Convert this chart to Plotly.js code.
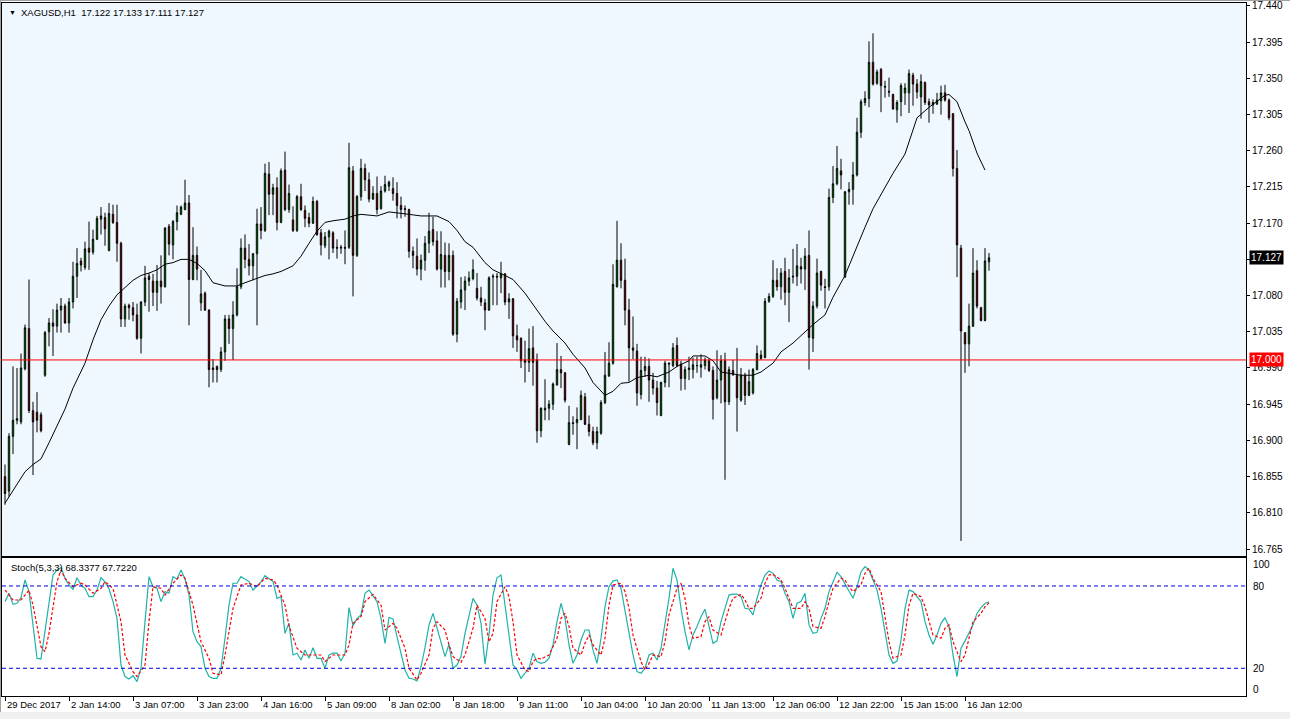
<!DOCTYPE html>
<html><head><meta charset="utf-8">
<script src="https://cdn.plot.ly/plotly-3.0.1.min.js"></script>
<style>html,body{margin:0;padding:0;background:#fff;}#chart{width:1290px;height:719px;}</style>
</head><body><div id="chart"></div>
<script>
// ---- OHLC (XAGUSD H1), bar index 0..246 ----
const openP = [16.855,16.837,16.905,16.925,16.923,16.989,17.039,16.937,16.935,16.932,
16.981,17.035,17.046,17.042,17.062,17.067,17.046,17.072,17.104,17.123,
17.115,17.139,17.134,17.150,17.175,17.177,17.136,17.181,17.171,17.145,
17.051,17.068,17.065,17.056,17.027,17.072,17.104,17.098,17.084,17.098,
17.091,17.166,17.143,17.172,17.181,17.187,17.195,17.100,17.130,17.071,
17.083,17.062,16.990,16.992,16.988,17.010,17.051,17.039,17.056,17.091,
17.139,17.125,17.117,17.132,17.169,17.161,17.231,17.206,17.214,17.171,
17.236,17.187,17.174,17.161,17.203,17.186,17.177,17.170,17.197,17.158,
17.142,17.153,17.158,17.140,17.139,17.140,17.140,17.235,17.130,17.203,
17.238,17.224,17.200,17.207,17.188,17.210,17.216,17.213,17.207,17.192,
17.187,17.187,17.135,17.129,17.113,17.124,17.145,17.162,17.148,17.113,
17.130,17.110,17.130,17.032,17.072,17.087,17.098,17.101,17.089,17.077,
17.071,17.062,17.103,17.104,17.102,17.107,17.072,17.076,17.030,17.027,
17.000,16.997,17.015,17.000,16.912,16.940,16.940,16.945,16.969,16.988,
16.984,16.895,16.922,16.922,16.926,16.954,16.920,16.911,16.897,16.909,
16.947,16.980,16.996,17.091,17.124,17.099,17.062,17.015,17.011,16.957,
16.987,16.992,16.975,16.965,16.931,16.972,16.996,16.993,17.018,16.995,
16.977,16.988,16.988,16.993,16.991,16.993,16.999,16.987,16.953,16.975,
16.999,16.948,16.987,16.981,16.950,16.981,16.956,16.959,16.988,17.006,
17.003,17.073,17.079,17.099,17.091,17.110,17.084,17.103,17.104,17.116,
17.113,17.130,17.027,17.067,17.110,17.091,17.091,17.202,17.219,17.235,
17.103,17.209,17.212,17.230,17.283,17.320,17.325,17.370,17.344,17.361,
17.339,17.334,17.330,17.311,17.321,17.332,17.332,17.354,17.343,17.327,
17.345,17.321,17.317,17.318,17.322,17.332,17.323,17.306,17.238,17.139,
17.034,17.020,17.042,17.111,17.065,17.049,17.122];
const highP = [16.870,16.909,16.992,16.990,17.008,17.044,17.100,16.948,16.960,16.935,
17.036,17.052,17.063,17.070,17.077,17.070,17.077,17.122,17.139,17.127,
17.147,17.172,17.162,17.179,17.190,17.183,17.195,17.193,17.193,17.147,
17.070,17.070,17.072,17.070,17.073,17.117,17.108,17.107,17.118,17.130,
17.165,17.169,17.174,17.192,17.192,17.224,17.205,17.165,17.141,17.112,
17.085,17.063,17.001,16.993,17.016,17.056,17.056,17.073,17.114,17.151,
17.156,17.144,17.133,17.188,17.190,17.244,17.246,17.219,17.227,17.238,
17.259,17.218,17.191,17.205,17.219,17.192,17.183,17.203,17.199,17.163,
17.159,17.162,17.160,17.150,17.143,17.161,17.270,17.241,17.205,17.250,
17.244,17.233,17.216,17.228,17.216,17.229,17.223,17.227,17.221,17.203,
17.192,17.188,17.141,17.151,17.131,17.154,17.183,17.178,17.160,17.160,
17.146,17.145,17.136,17.077,17.103,17.104,17.110,17.125,17.108,17.091,
17.076,17.104,17.107,17.108,17.122,17.108,17.083,17.077,17.044,17.028,
17.024,17.039,17.042,17.008,16.941,16.976,16.950,16.972,17.021,17.005,
16.985,16.943,16.930,16.941,16.962,16.959,16.931,16.917,16.917,16.950,
17.010,17.022,17.119,17.173,17.145,17.126,17.076,17.054,17.020,17.004,
17.004,17.002,16.984,16.974,16.973,16.999,16.997,17.021,17.028,16.999,
16.992,17.004,17.003,17.004,17.007,17.003,17.001,16.992,17.012,17.006,
17.009,16.992,17.000,17.015,16.990,16.984,16.988,16.990,17.018,17.012,
17.077,17.083,17.124,17.114,17.114,17.127,17.113,17.138,17.144,17.127,
17.139,17.161,17.073,17.126,17.111,17.101,17.213,17.241,17.266,17.250,
17.210,17.221,17.246,17.301,17.324,17.334,17.396,17.406,17.361,17.363,
17.347,17.351,17.331,17.323,17.344,17.344,17.361,17.357,17.349,17.355,
17.346,17.325,17.324,17.332,17.341,17.342,17.325,17.307,17.261,17.143,
17.034,17.070,17.139,17.124,17.066,17.139,17.133];
const lowP = [16.820,16.830,16.883,16.920,16.920,16.987,16.934,16.857,16.910,16.910,
16.979,17.017,17.005,17.034,17.034,17.045,17.034,17.064,17.077,17.110,
17.112,17.112,17.131,17.149,17.156,17.142,17.135,17.169,17.122,17.041,
17.041,17.050,17.048,17.025,17.008,17.067,17.060,17.067,17.061,17.070,
17.090,17.130,17.125,17.161,17.180,17.186,17.043,17.099,17.099,17.061,
17.061,16.966,16.972,16.972,16.985,16.999,17.020,17.000,17.054,17.088,
17.114,17.105,17.099,17.043,17.150,17.159,17.180,17.180,17.161,17.170,
17.185,17.183,17.159,17.159,17.185,17.165,17.165,17.169,17.154,17.130,
17.139,17.125,17.133,17.126,17.132,17.119,17.138,17.079,17.128,17.198,
17.210,17.196,17.199,17.181,17.187,17.208,17.210,17.198,17.176,17.176,
17.178,17.127,17.114,17.105,17.099,17.111,17.133,17.142,17.111,17.090,
17.090,17.099,17.030,17.022,17.064,17.062,17.092,17.099,17.074,17.067,
17.037,17.061,17.068,17.068,17.083,17.068,17.051,17.015,17.010,16.990,
16.972,16.985,16.968,16.897,16.904,16.925,16.925,16.938,16.968,16.965,
16.947,16.894,16.907,16.889,16.925,16.919,16.905,16.894,16.889,16.907,
16.945,16.979,16.994,17.090,17.089,17.043,16.973,17.001,16.943,16.951,
16.979,16.948,16.957,16.931,16.930,16.966,16.966,16.991,16.991,16.962,
16.963,16.975,16.977,16.984,16.978,16.988,16.985,16.926,16.951,16.946,
16.851,16.944,16.980,16.911,16.948,16.944,16.955,16.957,16.987,17.000,
17.002,17.071,17.077,17.086,17.075,17.068,17.047,17.095,17.092,17.095,
17.087,16.988,17.010,17.064,17.086,17.064,17.086,17.195,17.217,17.212,
17.102,17.193,17.193,17.228,17.276,17.316,17.314,17.341,17.342,17.308,
17.326,17.327,17.311,17.295,17.303,17.317,17.307,17.316,17.325,17.300,
17.317,17.295,17.306,17.317,17.305,17.321,17.298,17.228,17.103,16.775,
16.984,16.992,17.041,17.064,17.048,17.048,17.111];
const closeP = [16.834,16.905,16.925,16.927,16.990,17.040,16.937,16.923,16.925,16.912,
17.034,17.046,17.042,17.062,17.067,17.046,17.072,17.104,17.120,17.118,
17.138,17.134,17.150,17.176,17.179,17.163,17.182,17.171,17.145,17.051,
17.067,17.065,17.056,17.027,17.072,17.102,17.100,17.084,17.098,17.091,
17.164,17.144,17.172,17.183,17.190,17.195,17.100,17.130,17.113,17.082,
17.062,16.988,16.988,16.988,17.010,17.051,17.039,17.056,17.091,17.139,
17.125,17.117,17.132,17.169,17.161,17.232,17.206,17.214,17.171,17.235,
17.187,17.207,17.161,17.203,17.187,17.176,17.170,17.197,17.156,17.143,
17.153,17.160,17.139,17.139,17.140,17.139,17.239,17.130,17.203,17.238,
17.224,17.200,17.207,17.187,17.210,17.218,17.221,17.207,17.192,17.187,
17.188,17.135,17.130,17.113,17.124,17.145,17.160,17.147,17.113,17.131,
17.110,17.130,17.032,17.073,17.087,17.098,17.102,17.112,17.077,17.072,
17.062,17.102,17.104,17.103,17.107,17.072,17.076,17.030,17.025,16.999,
16.997,17.014,16.997,16.912,16.940,16.938,16.945,16.970,16.988,16.984,
16.950,16.922,16.921,16.926,16.956,16.920,16.911,16.897,16.911,16.947,
16.981,16.996,17.094,17.124,17.099,17.062,17.015,17.012,16.959,16.987,
16.992,16.975,16.965,16.947,16.972,16.996,16.995,17.015,16.993,16.977,
16.988,16.990,16.994,16.993,16.994,17.000,16.987,16.951,16.975,16.999,
16.948,16.988,16.982,16.953,16.981,16.956,16.973,16.988,17.008,17.002,
17.073,17.079,17.099,17.091,17.108,17.084,17.102,17.104,17.117,17.113,
17.129,17.028,17.067,17.108,17.093,17.090,17.202,17.219,17.238,17.230,
17.209,17.212,17.230,17.283,17.321,17.325,17.370,17.343,17.358,17.341,
17.340,17.333,17.312,17.320,17.341,17.338,17.356,17.343,17.333,17.346,
17.320,17.317,17.320,17.323,17.332,17.323,17.301,17.238,17.143,17.036,
17.020,17.042,17.108,17.067,17.049,17.123,17.127];
const bars = closeP.map((_, i) => i);

// ---- Moving average line, read at sampled bars ----
const maBars = [0,2,5,7,9,11,13,15,17,20,22,24,26,28,30,32,34,36,38,40,42,44,46,48,50,52,55,58,60,63,65,67,69,72,74,76,78,80,82,85,87,89,93,96,98,101,104,108,111,113,115,117,120,122,125,127,130,132,135,137,140,142,145,147,150,152,154,156,158,161,163,166,168,171,172,175,177,179,182,184,187,189,192,194,197,199,200,202,205,207,210,212,215,217,220,222,225,226,228,231,233,235,236,238,240,241,243,245];
const maVals = [16.822,16.837,16.861,16.870,16.877,16.897,16.917,16.939,16.965,16.996,17.025,17.050,17.067,17.081,17.090,17.099,17.105,17.108,17.112,17.119,17.121,17.125,17.125,17.120,17.111,17.096,17.092,17.092,17.096,17.101,17.105,17.107,17.110,17.117,17.129,17.145,17.160,17.171,17.173,17.175,17.179,17.181,17.179,17.184,17.183,17.181,17.179,17.179,17.172,17.161,17.147,17.140,17.121,17.112,17.105,17.100,17.083,17.069,17.048,17.036,17.021,17.007,16.990,16.972,16.956,16.961,16.971,16.972,16.978,16.981,16.979,16.985,16.992,16.999,17.005,17.005,16.999,16.985,16.983,16.981,16.981,16.985,16.996,17.010,17.021,17.030,17.034,17.044,17.056,17.078,17.105,17.130,17.165,17.188,17.214,17.232,17.256,17.272,17.301,17.314,17.321,17.329,17.330,17.321,17.296,17.285,17.257,17.236];

// ---- Stochastic (5,3,3) ----
const stochK = [68.6,74.7,66.6,67.4,71.5,84.4,75.9,51.6,27.3,26.8,
46.7,66,88,91.7,93.4,85.6,80.7,77.6,86,80.7,
78.3,72.2,72.2,77,86,83,78,68.6,56.4,22.4,
14,12.2,14.6,10.3,20,54,86.8,79.5,78.3,68.6,
75.9,74.7,86.8,85.1,91.7,85.1,73.4,46.7,39.4,35.8,
20,14,12.7,12.7,20,41.9,66.2,82,82,86.8,
85,83.2,77,80.2,83.2,87.5,85,83.2,71,72.2,
45.5,52.8,29.7,31,26,33.4,27.3,35,27.3,27.3,
20,29.7,31,31,25.3,31,64.2,51.1,56.4,58.9,
74.7,77,73,68.6,56.4,38.2,57,56,43,29.7,
18.8,12.7,12.2,10.8,21.2,35,51.6,60,49.2,39,
28.5,37.5,20,22.4,28.5,45.5,57.6,71,66.2,52.8,
23,44.3,73.4,86,88,66.2,44.3,22.4,18.8,12.7,
16.4,20,31,24.9,23.6,24.4,27.3,37,54,67.4,
56.4,37,23.6,29.7,40.6,47.9,47.9,33.4,23.6,41.9,
64.9,79.5,83.6,84.4,78.3,61.3,44.3,29.7,17.6,16.4,
20,29.7,31,26,34.6,52.8,71,92.9,84.4,63.7,
46.7,33.4,44.3,50.4,57.6,63.2,51.6,38.2,40,54,
63.7,73.4,74,74,72.2,63.7,63.2,58.9,71,80.7,
88,91,89.2,84.4,83.2,74.7,68.6,56.4,67.4,68.6,
74.7,51.6,45.5,46.2,56.4,63.7,75.9,83.2,90,86.8,
81.2,75.9,71,79.5,90.4,94.1,91.7,84.4,77,63.7,
45.5,29.7,23.6,25.3,40.6,63.7,77,75.9,72.2,68.6,
54,44.3,37.5,44.3,52.8,56.9,50.4,29.7,14,34.6,
40,45.5,51.6,60,64.2,67.4,68.3];
const stochDBars = [0,2,4,6,7,9,10,11,13,14,15,17,19,20,22,24,25,27,29,30,32,33,35,36,37,39,40,42,44,45,47,48,49,51,52,54,55,57,59,61,63,65,67,68,70,71,72,73,75,77,79,80,82,85,86,87,89,90,92,94,95,97,98,100,101,103,104,106,107,108,110,111,112,114,115,117,118,120,121,122,123,
125,126,127,128,130,131,132,133,134,135,136,138,139,140,141,142,144,145,146,147,149,150,151,152,154,155,156,157,159,160,161,162,164,165,166,168,169,170,171,172,174,175,176,177,179,180,181,182,184,185,186,187,189,190,191,192,194,195,196,197,199,200,201,202,204,205,206,207,209,210,211,212,214,215,216,217,219,220,221,222,224,225,226,227,229,230,231,232,234,235,236,237,239,240,241,242,244,245,246];
const stochDVals = [77,69.8,69.8,77,66,35.8,32.1,45.5,83.2,91.7,85.6,79.5,82,80.7,74.7,78.3,83.2,78.3,54,29.7,17.6,14,22.4,54,79.5,78.3,73.4,82,88,85.6,66,51.6,39.4,27.3,16.4,15.1,29.7,63.7,80.7,82,79.5,85.6,84.4,80.7,66,50.9,43,34.6,29.7,29.7,29.7,24.9,29.7,29.7,37,52.8,57.6,68.6,73.9,66,47.9,52.8,49.2,34.6,20,11.5,16.4,29.7,49.2,54,47.9,37,28.5,24.4,29.7,49.2,66,56.4,39.4,45.5,68.6,
79.5,72.2,54,29.7,18.8,17.6,24.9,27.3,26.8,28.5,29.7,41.9,56.4,60.1,50.4,34.6,29.7,38.2,44.3,37,29.7,41.9,66,80.7,82,75.9,63.7,44.3,24.9,18.8,23.6,29.7,28.5,39.4,58.9,78.3,82,71,51.6,41.9,43,54,57.6,47.9,44.3,54,63.7,71,73.9,69.8,63.7,63.7,71,82,88,88.5,84.4,78.3,71,63.7,63.7,68.6,63.7,50.4,49.2,57.6,68.6,78.3,85.6,84.4,79.5,75.9,80.7,89.2,92.9,85.6,75.9,58.9,39.4,27.3,29.7,44.3,66,74.7,72.2,64.9,54,44.3,41.9,49.2,51.6,39.4,24.9,29.7,41.9,54,60,64.9,67.7];

// ---- Axis labels ----
const priceTicks = [17.440,17.395,17.350,17.305,17.260,17.215,17.170,17.125,17.080,17.035,16.990,16.945,16.900,16.855,16.810,16.765];
const dateTickBars = [0,16,32,48,64,80,96,112,128,144,160,176,192,208,224,240];
const dateTickLabels = ["29 Dec 2017","2 Jan 14:00","3 Jan 07:00","3 Jan 23:00","4 Jan 16:00","5 Jan 09:00","8 Jan 02:00","8 Jan 18:00","9 Jan 11:00","10 Jan 04:00","10 Jan 20:00","11 Jan 13:00","12 Jan 06:00","12 Jan 22:00","15 Jan 15:00","16 Jan 12:00"];
const stochLevels = [80, 20];
const stochScaleLabels = [100, 80, 20, 0];
const symbolTitle = "XAGUSD,H1  17.122 17.133 17.111 17.127";
const stochTitle = "Stoch(5,3,3) 68.3377 67.7220";
const lastPrice = 17.127;
const hLinePrice = 17.000;

// ---- layout helpers (pixel -> paper) ----
const W = 1290, H = 719, ML = 2, MR = 44, MT = 3, MB = 23;
const PW = W - ML - MR, PH = H - MT - MB;
const pxX = p => (p - ML) / PW;
const pxY = p => (H - MB - p) / PH;
const FONT = '"Liberation Sans", Arial, sans-serif';

const traces = [
  { type: 'candlestick', x: bars, open: openP, high: highP, low: lowP, close: closeP,
    xaxis: 'x', yaxis: 'y', whiskerwidth: 0, hoverinfo: 'skip',
    increasing: { line: { color: '#000000', width: 1 }, fillcolor: '#00FF00' },
    decreasing: { line: { color: '#000000', width: 1 }, fillcolor: '#FF0000' } },
  { type: 'scatter', mode: 'lines', x: maBars, y: maVals, xaxis: 'x', yaxis: 'y',
    line: { color: '#000000', width: 1 }, hoverinfo: 'skip' },
  { type: 'scatter', mode: 'lines', x: bars, y: stochK, xaxis: 'x2', yaxis: 'y2',
    line: { color: '#20B2AA', width: 1.2 }, hoverinfo: 'skip' },
  { type: 'scatter', mode: 'lines', x: stochDBars, y: stochDVals, xaxis: 'x2', yaxis: 'y2',
    line: { color: '#FF0000', width: 1.2, dash: '3px,2px' }, hoverinfo: 'skip' }
];

const xr = [-0.75, 310.25];
const mainBottom = pxY(556), stochTop = pxY(558);

const shapes = [
  { type: 'rect', xref: 'x domain', yref: 'y domain', x0: 0, x1: 1, y0: 0, y1: 1,
    fillcolor: '#F0F8FF', line: { width: 0 }, layer: 'below' },
  { type: 'line', xref: 'x domain', yref: 'y', x0: 0, x1: 1, y0: hLinePrice, y1: hLinePrice,
    line: { color: '#FF0000', width: 1 } }
];
stochLevels.forEach(v => shapes.push({ type: 'line', xref: 'x2 domain', yref: 'y2', x0: 0, x1: 1, y0: v, y1: v,
  line: { color: '#0000E0', width: 1, dash: '4px,3px' } }));
// window frame
shapes.push({ type: 'rect', xref: 'paper', yref: 'paper', x0: pxX(0), x1: pxX(1290), y0: pxY(719), y1: pxY(712),
  fillcolor: '#F0F0F0', line: { width: 0 }, layer: 'below' });
shapes.push({ type: 'line', xref: 'paper', yref: 'paper', x0: pxX(0.5), x1: pxX(0.5), y0: pxY(0), y1: pxY(712),
  line: { color: '#A0A0A0', width: 1 } });
shapes.push({ type: 'line', xref: 'paper', yref: 'paper', x0: pxX(0), x1: pxX(1290), y0: pxY(0.5), y1: pxY(0.5),
  line: { color: '#A0A0A0', width: 1 } });

const annotations = [
  { xref: 'paper', yref: 'paper', x: pxX(7), y: pxY(12), xanchor: 'left', yanchor: 'middle', showarrow: false,
    text: '▼', font: { family: FONT, size: 7, color: '#000' } },
  { xref: 'paper', yref: 'paper', x: pxX(19), y: pxY(12), xanchor: 'left', yanchor: 'middle', showarrow: false,
    text: symbolTitle.replace(/ /g, '&nbsp;'), font: { family: FONT, size: 9.5, color: '#000' } },
  { xref: 'paper', yref: 'paper', x: pxX(9), y: pxY(567), xanchor: 'left', yanchor: 'middle', showarrow: false,
    text: stochTitle, font: { family: FONT, size: 9.5, color: '#000' } },
  { xref: 'paper', yref: 'y', x: pxX(1249), y: lastPrice, xanchor: 'left', yanchor: 'middle', showarrow: false,
    text: lastPrice.toFixed(3), bgcolor: '#000000', borderpad: 1, font: { family: FONT, size: 10, color: '#FFFFFF' } },
  { xref: 'paper', yref: 'y', x: pxX(1249), y: hLinePrice, xanchor: 'left', yanchor: 'middle', showarrow: false,
    text: hLinePrice.toFixed(3), bgcolor: '#FF0000', borderpad: 1, font: { family: FONT, size: 10, color: '#FFFFFF' } }
];
const stochLabelPix = [564, 586, 668, 689];
stochScaleLabels.forEach((v, k) => annotations.push({ xref: 'paper', yref: 'paper', x: pxX(1251), y: pxY(stochLabelPix[k]),
  xanchor: 'left', yanchor: 'middle', showarrow: false, text: String(v), font: { family: FONT, size: 10, color: '#000' } }));
dateTickBars.forEach((b, k) => annotations.push({ xref: 'x2', yref: 'paper', x: b, y: pxY(705), xshift: 0,
  xanchor: 'left', yanchor: 'middle', showarrow: false, text: dateTickLabels[k], font: { family: FONT, size: 9.5, color: '#000' } }));

const layout = {
  width: W, height: H, margin: { l: ML, r: MR, t: MT, b: MB, pad: 0 },
  paper_bgcolor: '#FFFFFF', plot_bgcolor: '#FFFFFF', showlegend: false, hovermode: false,
  boxgap: 0.5,
  xaxis: { domain: [0, 1], range: xr, anchor: 'y', showgrid: false, zeroline: false, showticklabels: false,
    ticks: '', showline: true, mirror: true, linecolor: '#000', linewidth: 1, rangeslider: { visible: false }, fixedrange: true },
  yaxis: { domain: [mainBottom, 1], range: [16.7563, 17.4437], side: 'right', anchor: 'x', showgrid: false, zeroline: false,
    tickmode: 'array', tickvals: priceTicks, ticktext: priceTicks.map(v => v.toFixed(3)), ticks: 'outside', ticklen: 3,
    tickcolor: '#000', showline: true, mirror: true, linecolor: '#000', linewidth: 1,
    tickfont: { family: FONT, size: 10, color: '#000' }, fixedrange: true },
  xaxis2: { domain: [0, 1], range: xr, anchor: 'y2', showgrid: false, zeroline: false, showticklabels: false,
    tickmode: 'array', tickvals: dateTickBars, ticks: 'outside', ticklen: 4, tickcolor: '#000',
    showline: true, mirror: true, linecolor: '#000', linewidth: 1, fixedrange: true },
  yaxis2: { domain: [0, stochTop], range: [-0.2, 100.4], side: 'right', anchor: 'x2', showgrid: false, zeroline: false,
    showticklabels: false, ticks: '', showline: true, mirror: true, linecolor: '#000', linewidth: 1, fixedrange: true },
  shapes: shapes, annotations: annotations
};

Plotly.newPlot('chart', traces, layout, { staticPlot: true, displayModeBar: false });
</script></body></html>
